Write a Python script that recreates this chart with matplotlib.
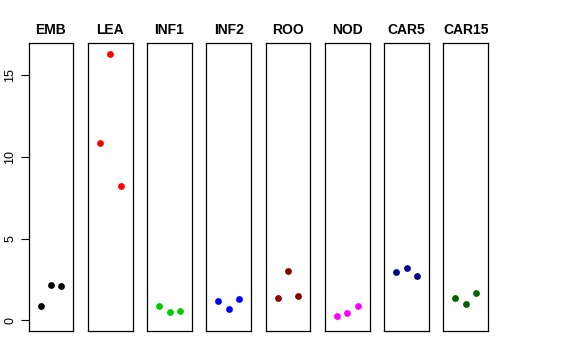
import numpy as np
import matplotlib
matplotlib.use("Agg")
import matplotlib.pyplot as plt

plt.rcParams["font.family"] = ["Liberation Sans", "DejaVu Sans"]

# -----------------------------------------------------------
# data: three replicates per tissue
# -----------------------------------------------------------
tissues = ["EMB", "LEA", "INF1", "INF2", "ROO", "NOD", "CAR5", "CAR15"]
emb = [0.87, 2.16, 2.12]
lea = [10.84, 16.28, 8.21]
inf1 = [0.90, 0.49, 0.55]
inf2 = [1.20, 0.69, 1.33]
roo = [1.39, 3.01, 1.51]
nod = [0.29, 0.45, 0.87]
car5 = [2.95, 3.18, 2.73]
car15 = [1.39, 0.98, 1.69]
values = [emb, lea, inf1, inf2, roo, nod, car5, car15]
colors = ["black", "#FF0000", "#00CD00", "#0000FF", "#8B0000",
          "#FF00FF", "#00008B", "#006400"]

W, H = 576, 360
fig = plt.figure(figsize=(W / 100, H / 100), dpi=100)

ymax = max(max(v) for v in values)
pad_y = 0.04 * ymax
pad_x = 0.04 * 4

left0 = 28.7
step = 59.25
pw = 44.6
top, bottom = 43.3, 331.0

for i, (name, vals, col) in enumerate(zip(tissues, values, colors)):
    x0 = left0 + i * step
    ax = fig.add_axes([x0 / W, 1 - bottom / H, pw / W, (bottom - top) / H])
    ax.scatter([1, 2, 3], vals, s=24, color=col, zorder=3, linewidths=0)
    ax.set_xlim(0 - pad_x, 4 + pad_x)
    ax.set_ylim(0 - pad_y, ymax + pad_y)
    ax.set_xticks([])
    for sp in ax.spines.values():
        sp.set_linewidth(0.9)
        sp.set_color("black")
    ax.set_title(name, fontsize=10, fontweight="bold", pad=6.5)
    if i == 0:
        ax.set_yticks([0, 5, 10, 15])
        ax.set_yticklabels(["0", "5", "10", "15"], rotation=90, va="center")
        ax.tick_params(axis="y", length=5.5, width=0.8, labelsize=9, pad=3.5)
    else:
        ax.set_yticks([])

fig.savefig("out.png", dpi=100)
